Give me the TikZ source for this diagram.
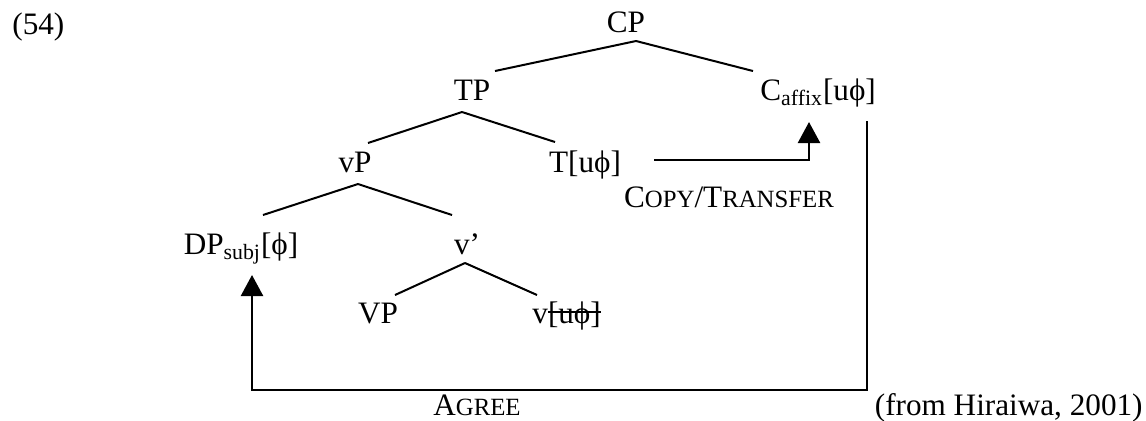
\documentclass[tikz,border=0pt]{standalone}
\usepackage{fontspec}
\setmainfont{Liberation Serif}
\usetikzlibrary{arrows.meta}
\newcommand\strk[1]{\setbox0\hbox{#1}\rlap{\raisebox{0.33em}{\rule{\wd0}{0.065em}}}\box0}
\newcommand\smc[1]{{\fontsize{12.4}{14}\selectfont #1}}
\begin{document}
\begin{tikzpicture}[x=0.5pt,y=-0.5pt,
  lab/.style={inner sep=0pt, font=\fontsize{15.6}{18}\selectfont, anchor=base},
  edge/.style={line width=1pt},
  arr/.style={line width=1.2pt, -{Triangle[width=11pt,length=10.5pt]}}]
\useasboundingbox (0,0) rectangle (1146,420);
\node[lab, anchor=base west] (ex) at (12,34) {(54)};
\node[lab] (CP) at (626,32) {CP};
\node[lab] (TP) at (472,100) {TP};
\node[lab, anchor=base west] (C) at (760,100) {C\textsubscript{affix}[uϕ]};
\node[lab] (vP) at (355,172) {vP};
\node[lab] (T) at (585,172) {T[uϕ]};
\node[lab] (DP) at (241,254) {DP\textsubscript{subj}[ϕ]};
\node[lab] (vbar) at (467,254) {v’};
\node[lab] (VP) at (378,323) {VP};
\node[lab, anchor=base west] (v) at (532,323) {v\strk{[uϕ]}};
\node[lab] (copy) at (729,207) {C\smc{OPY}/T\smc{RANSFER}};
\node[lab] (agree) at (477,415) {A\smc{GREE}};
\node[lab, anchor=base east] (src) at (1143,415) {(from Hiraiwa, 2001)};
% tree edges
\draw[edge] ([shift={(10,9)}]CP.base) -- ([shift={(23,-29)}]TP.base);
\draw[edge] ([shift={(10,9)}]CP.base) -- ([shift={(-7,-29)}]C.base west);
\draw[edge] ([shift={(-10,12)}]TP.base) -- ([shift={(13,-29)}]vP.base);
\draw[edge] ([shift={(-10,12)}]TP.base) -- ([shift={(-30,-30)}]T.base);
\draw[edge] ([shift={(3,12)}]vP.base) -- ([shift={(22,-39)}]DP.base);
\draw[edge] ([shift={(3,12)}]vP.base) -- ([shift={(-15,-39)}]vbar.base);
\draw[edge] ([shift={(-2,9)}]vbar.base) -- ([shift={(17,-28)}]VP.base);
\draw[edge] ([shift={(-2,9)}]vbar.base) -- ([shift={(5,-28)}]v.base west);
% arrows
\draw[arr] ([shift={(33,-12)}]T.base east) -| ([shift={(49,22)}]C.base west);
\coordinate (ag) at (252,390);
\draw[arr] ([shift={(107,21)}]C.base west) |- (ag) -- ([shift={(11,21)}]DP.base);
\end{tikzpicture}
\end{document}
